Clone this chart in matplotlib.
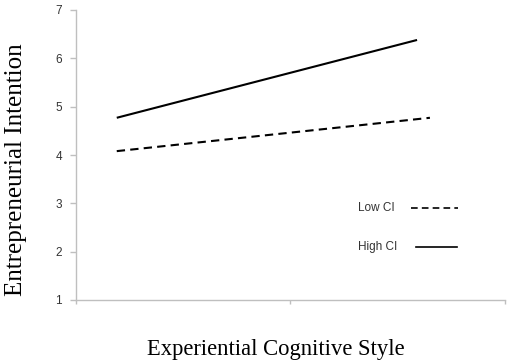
import matplotlib
matplotlib.use('Agg')
import matplotlib.pyplot as plt

x_pos = [0.19, 1.59]
x_pos_low = [0.19, 1.65]
high_ci = [4.77, 6.38]
low_ci = [4.08, 4.77]
y_ticks = [1, 2, 3, 4, 5, 6, 7]

fig = plt.figure(figsize=(5.1, 3.63), dpi=100)
ax = fig.add_axes([76/510, 1-300/363, 429/510, 290/363])

ax.plot(x_pos, high_ci, color='black', lw=1.5, solid_capstyle='butt')
ax.plot(x_pos_low, low_ci, color='black', lw=1.5, ls=(0, (4, 2.5)))

ax.set_xlim(0, 2)
ax.set_ylim(1, 7)
ax.set_yticks(y_ticks)
ax.set_xticks([0, 1, 2])
ax.set_xticklabels([])

gray = '#bfbfbf'
for s in ['top', 'right']:
    ax.spines[s].set_visible(False)
for s in ['left', 'bottom']:
    ax.spines[s].set_color(gray)
    ax.spines[s].set_linewidth(1.0)
ax.tick_params(axis='y', colors=gray, length=4, width=1, labelcolor='#333333',
               labelsize=8.5, pad=6)
ax.tick_params(axis='x', colors=gray, length=3, width=1)
for t in ax.get_yticklabels():
    t.set_fontfamily('Liberation Sans')

# manual key, as in the original
def key(y_px, label, style, x0, x1):
    yf = (300 - y_px) / 290
    ax.text((358-76)/429, yf, label, transform=ax.transAxes, fontsize=8.5,
            family='Liberation Sans', color='#333333', va='center', ha='left')
    ax.plot([(x0-76)/429, (x1-76)/429], [yf, yf], transform=ax.transAxes,
            color='black', lw=1.2, ls=style)

key(208, 'Low CI', (0, (4, 2.5)), 411, 458)
key(247, 'High CI', '-', 416, 457)

fig.text(276/510, 1-350/363, 'Experiential Cognitive Style', ha='center', va='center',
         family='Liberation Serif', fontsize=16.3)
fig.text(16/510, 1-170/363, 'Entrepreneurial Intention', ha='center', va='center',
         rotation=90, family='Liberation Serif', fontsize=18)

fig.savefig('out.png', dpi=100)
